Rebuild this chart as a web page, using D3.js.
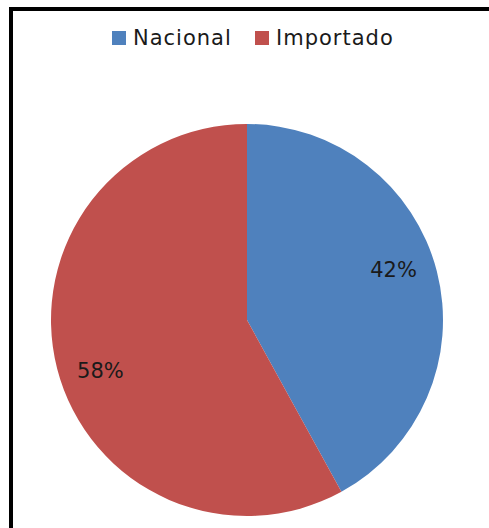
<!DOCTYPE html>
<html>
<head>
<meta charset="utf-8">
<script src="https://cdn.jsdelivr.net/npm/d3@7"></script>
<style>
  body { margin: 0; background: #fff; }
  svg text { font-family: "DejaVu Sans", Verdana, sans-serif; fill: #1a1a1a; }
</style>
</head>
<body>
<div class="box"></div>
<script>
// Data
const categories = ["Nacional", "Importado"];
const values = [42, 58];
const colors = ["#4F81BD", "#C0504D"];

const w = 489;
const h = 528;

// center and radius of the pie
const cx = 247;
const cy = 320;
const r = 196;

const svg = d3.select(".box")
            .append("svg")
            .attr("width", w)
            .attr("height", h);

// frame (right and bottom run out of the picture)
svg.append("rect")
    .attr("x", 11)
    .attr("y", 9)
    .attr("width", w + 20)
    .attr("height", h + 20)
    .style("fill", "none")
    .style("stroke", "#000")
    .style("stroke-width", 4);

// Pie
const pie = d3.pie().sort(null).value((d) => d);
const arcs = pie(values);

const arc = d3.arc().innerRadius(0).outerRadius(r);
const labelArc = d3.arc().innerRadius(155).outerRadius(155);

const g = svg.append("g")
            .attr("transform", "translate(" + cx + "," + cy + ")");

g.selectAll("path")
    .data(arcs)
    .enter()
    .append("path")
    .attr("d", arc)
    .style("fill", (d, i) => colors[i]);

// Excel puts the labels a little before the middle of each slice
g.selectAll("text.lbl")
    .data(arcs)
    .enter()
    .append("text")
    .attr("class", "lbl")
    .attr("x", (d) => labelArc.centroid({startAngle: d.startAngle - 0.08, endAngle: d.endAngle - 0.08})[0])
    .attr("y", (d) => labelArc.centroid({startAngle: d.startAngle - 0.08, endAngle: d.endAngle - 0.08})[1])
    .attr("text-anchor", "middle")
    .attr("dy", "0.36em")
    .style("font-size", "21px")
    .text((d) => d.data + "%");

// Legend
const legend = svg.append("g");
const legendX = [112, 255];

categories.forEach(function(c, i) {
    legend.append("rect")
        .attr("x", legendX[i])
        .attr("y", 31)
        .attr("width", 14)
        .attr("height", 14)
        .style("fill", colors[i]);
    legend.append("text")
        .attr("x", legendX[i] + 21)
        .attr("y", 45)
        .style("font-size", "21px")
        .style("letter-spacing", "1px")
        .text(c);
});
</script>
</body>
</html>
